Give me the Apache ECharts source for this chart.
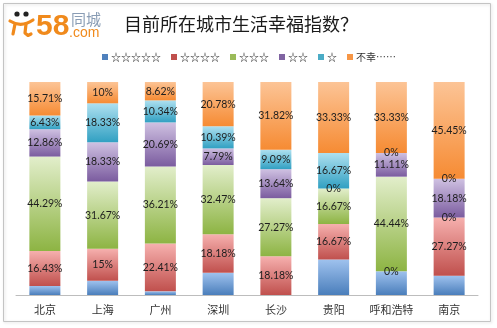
<!DOCTYPE html>
<html>
<head>
<meta charset="utf-8">
<script src="https://cdn.jsdelivr.net/npm/echarts@6/dist/echarts.min.js"></script>
<style>
  html, body { margin: 0; padding: 0; background: #fff; }
  #chart { width: 497px; height: 328px; }
</style>
</head>
<body>
<div id="chart"></div>
<script>
// Cities surveyed
const cities = ['北京', '上海', '广州', '深圳', '长沙', '贵阳', '呼和浩特', '南京'];

// Share of respondents per happiness rating (%), bottom to top of each column
const fiveStars  = [4.28, 6.67, 1.72, 10.39, 0, 16.67, 11.12, 9.09];
const fourStars  = [16.43, 15, 22.41, 18.18, 18.18, 16.67, 0, 27.27];
const threeStars = [44.29, 31.67, 36.21, 32.47, 27.27, 16.67, 44.44, 0];
const twoStars   = [12.86, 18.33, 20.69, 7.79, 13.64, 0, 11.11, 18.18];
const oneStar    = [6.43, 18.33, 10.34, 10.39, 9.09, 16.67, 0, 0];
const unhappy    = [15.71, 10, 8.62, 20.78, 31.82, 33.33, 33.33, 45.45];

const seriesNames = ['☆☆☆☆☆', '☆☆☆☆', '☆☆☆', '☆☆', '☆', '不幸……'];
const seriesData = [fiveStars, fourStars, threeStars, twoStars, oneStar, unhappy];

// light (top) and deep (bottom) tone of each segment fill
const tones = [
  ['#9fc2ee', '#4a7ebb'],
  ['#f6b0ae', '#c0504d'],
  ['#e2eecb', '#8db443'],
  ['#cfc1e2', '#7b5c9f'],
  ['#aee0f0', '#31a0c2'],
  ['#fcc496', '#f68b33']
];
const legendColors = ['#4f81bd', '#c0504d', '#9bbb59', '#8064a2', '#4bacc6', '#f79646'];

function grad(i) {
  return new echarts.graphic.LinearGradient(0, 0, 0, 1, [
    { offset: 0, color: tones[i][0] },
    { offset: 1, color: tones[i][1] }
  ]);
}

const chart = echarts.init(document.getElementById('chart'), null, { renderer: 'canvas' });

const series = seriesData.map((data, i) => ({
  name: seriesNames[i],
  type: 'bar',
  stack: 'total',
  barWidth: 31,
  data: data,
  itemStyle: { color: grad(i) },
  label: {
    show: i > 0,
    position: 'inside',
    formatter: '{c}%',
    color: '#1e1e1e',
    fontFamily: 'Lato',
    fontSize: 10.5
  },
  emphasis: { disabled: true }
}));

const logoOrange = '#f08a1c';

chart.setOption({
  animation: false,
  backgroundColor: '#fff',
  color: legendColors,
  legend: {
    left: 97,
    top: 47,
    itemWidth: 6,
    itemHeight: 6,
    itemGap: 10,
    icon: 'rect',
    textStyle: { fontFamily: 'Noto Sans CJK SC', fontSize: 10, color: '#333', padding: [0, 0, 0, -2] },
    data: seriesNames.map((n, i) => ({ name: n, itemStyle: { color: legendColors[i] } }))
  },
  grid: { left: 16, right: 19, top: 82, bottom: 33 },
  xAxis: {
    type: 'category',
    data: cities,
    axisLine: { lineStyle: { color: '#bdbdbd' } },
    axisTick: { show: false },
    axisLabel: { color: '#333', fontFamily: 'Noto Sans CJK SC', fontSize: 11, margin: 9 }
  },
  yAxis: {
    type: 'value',
    min: 0,
    max: 100,
    show: false,
    splitLine: { show: false }
  },
  series: series,
  graphic: [
    {
      type: 'rect',
      shape: { x: 3.5, y: 3.5, width: 487, height: 318 },
      style: { fill: 'none', stroke: '#c4c4c4', lineWidth: 1, shadowColor: 'rgba(0,0,0,0.15)', shadowBlur: 3, shadowOffsetX: 1, shadowOffsetY: 1 },
      silent: true
    },
    // logo mark
    { type: 'circle', shape: { cx: 17, cy: 14, r: 2.6 }, style: { fill: '#222' } },
    { type: 'circle', shape: { cx: 26, cy: 14, r: 2.6 }, style: { fill: '#222' } },
    {
      type: 'bezierCurve',
      shape: { x1: 10, y1: 21, x2: 33, y2: 20, cpx1: 21, cpy1: 28 },
      style: { fill: 'none', stroke: logoOrange, lineWidth: 3.2, lineCap: 'round' }
    },
    {
      type: 'line',
      shape: { x1: 15, y1: 24, x2: 13, y2: 34 },
      style: { stroke: logoOrange, lineWidth: 3.2, lineCap: 'round' }
    },
    {
      type: 'polyline',
      shape: { points: [[26, 24], [25, 33], [28, 35.5], [31, 34]] },
      style: { fill: 'none', stroke: logoOrange, lineWidth: 3.2, lineCap: 'round', lineJoin: 'round' }
    },
    {
      type: 'text', left: 36, top: 12,
      style: { text: '58', font: 'bold 30px "Liberation Sans", Arial', fill: logoOrange }
    },
    {
      type: 'text', left: 71, top: 12,
      style: { text: '同城', font: '15px "Noto Sans CJK SC"', fill: '#8a9db5' }
    },
    {
      type: 'text', left: 69, top: 26,
      style: { text: '.com', font: '14px "Liberation Sans", Arial', fill: logoOrange }
    },
    {
      type: 'text', left: 124, top: 15,
      style: { text: '目前所在城市生活幸福指数？', font: '18px "Noto Sans CJK SC"', fill: '#1a1a1a' }
    }
  ]
});
</script>
</body>
</html>
